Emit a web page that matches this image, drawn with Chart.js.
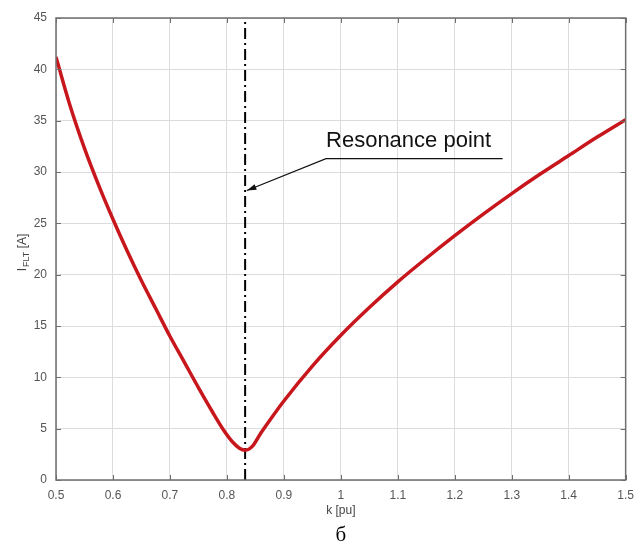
<!DOCTYPE html>
<html>
<head>
<meta charset="utf-8">
<script src="https://cdn.jsdelivr.net/npm/chart.js@4/dist/chart.umd.min.js"></script>
<style>
  html, body { margin: 0; padding: 0; background: #fff; }
  #wrap { width: 642px; height: 547px; position: relative; }
</style>
</head>
<body>
<div id="wrap"><canvas id="c"></canvas></div>
<script>
    // Curve
    const kValues = [0.5, 0.525, 0.55, 0.575, 0.6, 0.625, 0.65, 0.675, 0.7, 0.725, 0.75, 0.775, 0.795, 0.81, 0.822, 0.832, 0.845, 0.86, 0.875, 0.9, 0.95, 1.0, 1.05, 1.1, 1.15, 1.2, 1.25, 1.3, 1.35, 1.4, 1.45, 1.5];
    const iFlt    = [41.2, 36.4, 32.3, 28.7, 25.4, 22.3, 19.4, 16.7, 14.0, 11.5, 9.0, 6.6, 4.8, 3.7, 3.1, 2.9, 3.3, 4.6, 5.8, 7.7, 11.1, 14.1, 16.8, 19.3, 21.6, 23.8, 25.9, 27.9, 29.8, 31.6, 33.4, 35.1];

    // Resonance marker
    const resonanceK = 0.832;
    const yRange = [0, 45];

    // Annotation (data coordinates)
    const labelText = 'Resonance point';
    const labelPos = { k: 0.974, i: 32.4 };
    const underline = { k0: 0.974, k1: 1.284, i: 31.3 };
    const arrowTip = { k: 0.835, i: 28.2 };

    const xTicks = [0.5, 0.6, 0.7, 0.8, 0.9, 1, 1.1, 1.2, 1.3, 1.4, 1.5];

    const FONT = '"Liberation Sans", Arial, sans-serif';
    const AXIS = '#6e6e6e';

    const overlay = {
        id: 'overlay',
        afterDraw(chart) {
            const ctx = chart.ctx;
            const xs = chart.scales.x, ys = chart.scales.y;
            const a = chart.chartArea;
            ctx.save();

            // axis box + inner ticks
            ctx.strokeStyle = AXIS;
            ctx.lineWidth = 1.5;
            ctx.strokeRect(a.left, a.top, a.right - a.left, a.bottom - a.top);
            ctx.lineWidth = 1;
            xs.ticks.forEach(t => {
                const px = Math.round(xs.getPixelForValue(t.value)) + 0.5;
                ctx.beginPath();
                ctx.moveTo(px, a.bottom); ctx.lineTo(px, a.bottom - 5);
                ctx.moveTo(px, a.top); ctx.lineTo(px, a.top + 5);
                ctx.stroke();
            });
            ys.ticks.forEach(t => {
                const py = Math.round(ys.getPixelForValue(t.value)) + 0.5;
                ctx.beginPath();
                ctx.moveTo(a.left, py); ctx.lineTo(a.left + 5, py);
                ctx.moveTo(a.right, py); ctx.lineTo(a.right - 5, py);
                ctx.stroke();
            });

            // annotation text, underline, arrow
            ctx.fillStyle = '#111';
            ctx.font = '22px ' + FONT;
            ctx.textAlign = 'left';
            ctx.textBaseline = 'alphabetic';
            ctx.fillText(labelText, xs.getPixelForValue(labelPos.k), ys.getPixelForValue(labelPos.i));

            const ux0 = xs.getPixelForValue(underline.k0), ux1 = xs.getPixelForValue(underline.k1);
            const uy = ys.getPixelForValue(underline.i);
            const tx = xs.getPixelForValue(arrowTip.k), ty = ys.getPixelForValue(arrowTip.i);
            ctx.strokeStyle = '#111';
            ctx.lineWidth = 1.2;
            ctx.beginPath();
            ctx.moveTo(ux1, uy); ctx.lineTo(ux0, uy); ctx.lineTo(tx, ty);
            ctx.stroke();
            const ang = Math.atan2(ty - uy, tx - ux0);
            ctx.fillStyle = '#111';
            ctx.beginPath();
            ctx.moveTo(tx, ty);
            ctx.lineTo(tx - 10 * Math.cos(ang - 0.3), ty - 10 * Math.sin(ang - 0.3));
            ctx.lineTo(tx - 10 * Math.cos(ang + 0.3), ty - 10 * Math.sin(ang + 0.3));
            ctx.closePath();
            ctx.fill();

            // axis titles
            ctx.fillStyle = '#444';
            ctx.font = '12px ' + FONT;
            ctx.textAlign = 'center';
            ctx.textBaseline = 'middle';
            ctx.fillText('k [pu]', (a.left + a.right) / 2, 511);

            ctx.save();
            ctx.translate(22, (a.top + a.bottom) / 2 + 4);
            ctx.rotate(-Math.PI / 2);
            ctx.textAlign = 'left';
            ctx.textBaseline = 'alphabetic';
            const w1 = ctx.measureText('I').width;
            ctx.font = '9px ' + FONT;
            const w2 = ctx.measureText('FLT').width;
            ctx.font = '12px ' + FONT;
            const w3 = ctx.measureText(' [A]').width;
            let x0 = -(w1 + w2 + w3) / 2;
            ctx.fillText('I', x0, 4);
            ctx.font = '9px ' + FONT;
            ctx.fillText('FLT', x0 + w1 + 1, 7);
            ctx.font = '12px ' + FONT;
            ctx.fillText(' [A]', x0 + w1 + w2 + 1, 4);
            ctx.restore();

            // caption
            ctx.fillStyle = '#000';
            ctx.font = '21px "Liberation Serif", "DejaVu Serif", serif';
            ctx.textAlign = 'center';
            ctx.textBaseline = 'middle';
            ctx.fillText('б', (a.left + a.right) / 2, 535);

            ctx.restore();
        }
    };

    new Chart(document.getElementById('c'), {
        type: 'line',
        data: {
            datasets: [
                {
                    label: 'IFLT',
                    data: kValues.map((k, i) => ({ x: k, y: iFlt[i] })),
                    borderColor: '#c8161d',
                    borderWidth: 3.5,
                    pointRadius: 0,
                    cubicInterpolationMode: 'monotone',
                    fill: false
                },
                {
                    label: 'Resonance',
                    data: yRange.map(v => ({ x: resonanceK, y: v })),
                    borderColor: '#000',
                    borderWidth: 2,
                    borderDash: [11, 4, 2, 4],
                    pointRadius: 0,
                    fill: false
                }
            ]
        },
        options: {
            responsive: true,
            maintainAspectRatio: false,
            animation: false,
            layout: { padding: { top: 18, right: 16, left: 0, bottom: 0 } },
            plugins: { legend: { display: false }, tooltip: { enabled: false } },
            scales: {
                x: {
                    type: 'linear',
                    min: 0.5, max: 1.5,
                    afterBuildTicks: s => { s.ticks = xTicks.map(v => ({ value: v })); },
                    afterFit: s => { s.height = 67; },
                    grid: { color: '#dcdcdc', drawTicks: false, lineWidth: 1 },
                    border: { display: false },
                    ticks: {
                        color: '#555',
                        font: { family: FONT, size: 12 },
                        padding: 8,
                        maxRotation: 0,
                        callback: v => String(v)
                    }
                },
                y: {
                    min: 0, max: 45,
                    afterFit: s => { s.width = 56; },
                    grid: { color: '#dcdcdc', drawTicks: false, lineWidth: 1 },
                    border: { display: false },
                    ticks: {
                        stepSize: 5,
                        color: '#555',
                        font: { family: FONT, size: 12 },
                        padding: 9
                    }
                }
            }
        },
        plugins: [overlay]
    });
</script>
</body>
</html>
